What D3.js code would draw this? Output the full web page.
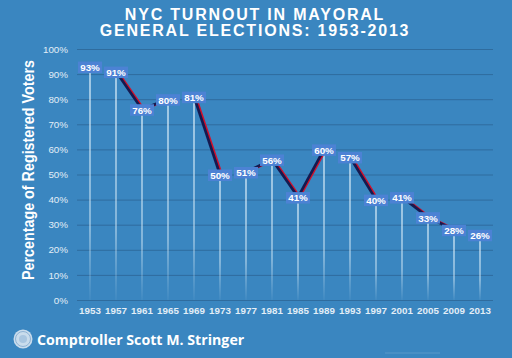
<!DOCTYPE html>
<html><head><meta charset="utf-8">
<script src="https://cdn.jsdelivr.net/npm/d3@7"></script>
<style>html,body{margin:0;padding:0;background:#3a86c0;}svg{display:block;}</style>
</head><body>
<script>
const years = ["1953","1957","1961","1965","1969","1973","1977","1981","1985","1989","1993","1997","2001","2005","2009","2013"];
const turnout = [93,91,76,80,81,50,51,56,41,60,57,40,41,33,28,26];
// elections from which a connecting line is drawn to the next election
const linkedFrom = ["1957","1961","1969","1977","1981","1985","1993","2001","2005"];
const yTicks = [0,10,20,30,40,50,60,70,80,90,100];
const titleLines = ["NYC TURNOUT IN MAYORAL","GENERAL ELECTIONS: 1953-2013"];
const yTitle = "Percentage of Registered Voters";
const footer = "Comptroller Scott M. Stringer";

const W=512,H=358;
const svg=d3.select("body").append("svg").attr("width",W).attr("height",H);
svg.append("rect").attr("width",W).attr("height",H).attr("fill","#3a86c0");

const x=d3.scaleBand().domain(years).range([77,493]);
const y=d3.scaleLinear().domain([0,100]).range([300,49]);
const cx=d=>x(d)+x.bandwidth()/2;
const data=years.map((d,i)=>({year:d,v:turnout[i]}));
const segs=linkedFrom.map(s=>{const i=years.indexOf(s);return [data[i],data[i+1]];});

const defs=svg.append("defs");
const g=defs.append("linearGradient").attr("id","fade").attr("x1",0).attr("y1",0).attr("x2",0).attr("y2",1);
g.append("stop").attr("offset","0%").attr("stop-color","#d8ecf8").attr("stop-opacity",0.95);
g.append("stop").attr("offset","70%").attr("stop-color","#d8ecf8").attr("stop-opacity",0.65);
g.append("stop").attr("offset","100%").attr("stop-color","#d8ecf8").attr("stop-opacity",0.05);

// title
svg.append("g").selectAll("text").data(titleLines).join("text")
  .attr("x",255).attr("y",(d,i)=>19.5+i*16.7).attr("text-anchor","middle")
  .attr("fill","#fff").attr("font-family","Liberation Sans, Arial, sans-serif")
  .attr("font-weight","bold").attr("font-size",16).attr("letter-spacing",1.8).text(d=>d);

// grid
const yAxis=d3.axisLeft(y).tickValues(yTicks).tickFormat(d=>d+"%").tickSize(-(493-77)).tickPadding(9);
const ga=svg.append("g").attr("transform","translate(77,0)").call(yAxis);
ga.select(".domain").remove();
ga.selectAll(".tick line").attr("stroke","#2f6c9e").attr("stroke-width",1);
ga.selectAll(".tick text").attr("fill","#e3eef7").attr("font-family","Liberation Sans, Arial, sans-serif").attr("font-size",9.8);

// x axis
const xAxis=d3.axisBottom(x).tickSize(0).tickPadding(7);
const gx=svg.append("g").attr("transform","translate(0,300)").call(xAxis);
gx.select(".domain").remove();
gx.selectAll(".tick text").attr("fill","#e3eef7").attr("font-family","Liberation Sans, Arial, sans-serif").attr("font-size",9.8).attr("font-weight","bold");

// vertical lines
svg.append("g").selectAll("rect").data(data).join("rect")
  .attr("x",d=>cx(d.year)-0.7).attr("width",1.4)
  .attr("y",d=>y(d.v)).attr("height",d=>300-y(d.v)).attr("fill","url(#fade)");

// connecting lines (red shadow + navy)
const line=d3.line().x(d=>cx(d.year)).y(d=>y(d.v));
svg.append("g").selectAll("path").data(segs).join("path").attr("d",line).attr("fill","none")
  .attr("stroke","#d40f2a").attr("stroke-width",2.2).attr("transform","translate(1.8,0)");
svg.append("g").selectAll("path").data(segs).join("path").attr("d",line).attr("fill","none")
  .attr("stroke","#151a50").attr("stroke-width",2.7);

// labels
const lab=svg.append("g").selectAll("g").data(data).join("g")
  .attr("transform",d=>`translate(${cx(d.year)},${y(d.v)+0.8})`);
lab.append("rect").attr("x",-12).attr("y",-5.8).attr("width",24).attr("height",11.5).attr("fill","#4c82d4");
lab.append("text").attr("text-anchor","middle").attr("y",3.6).attr("fill","#fff")
  .attr("font-family","Liberation Sans, Arial, sans-serif").attr("font-weight","bold").attr("font-size",9.8)
  .text(d=>d.v+"%");

// y title
svg.append("text").attr("transform","translate(34,170) rotate(-90)").attr("text-anchor","middle")
  .attr("fill","#fff").attr("font-family","Liberation Sans, Arial, sans-serif").attr("font-weight","bold")
  .attr("font-size",17).attr("textLength",220).attr("lengthAdjust","spacingAndGlyphs").text(yTitle);

// footer logo
const lg=svg.append("g").attr("transform","translate(23,339)");
lg.append("circle").attr("r",9.5).attr("fill","#c9dcec");
lg.append("circle").attr("r",7.5).attr("fill","none").attr("stroke","#8fb3d4").attr("stroke-width",1);
lg.append("circle").attr("r",4).attr("fill","#a9c6e0");
svg.append("text").attr("x",37).attr("y",344.5).attr("fill","#fff")
  .attr("font-family","Open Sans, Liberation Sans, sans-serif").attr("font-weight","bold").attr("font-size",14.2).text(footer);
svg.append("line").attr("x1",385).attr("x2",440).attr("y1",353).attr("y2",353).attr("stroke","#6fa4cf").attr("stroke-width",1).attr("opacity",0.6);
</script>
</body></html>
